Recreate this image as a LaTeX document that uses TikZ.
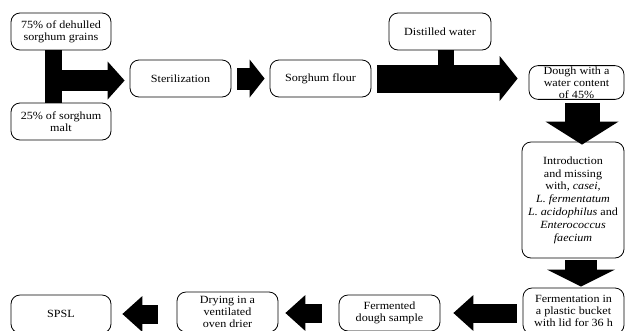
\documentclass[tikz,border=0pt]{standalone}
\usepackage{fontspec}
\setmainfont{Liberation Serif}[FakeStretch=1.1]
\usetikzlibrary{arrows.meta}
\begin{document}
\begin{tikzpicture}[x=1pt,y=-1pt,
  box/.style={rectangle, draw, rounded corners=9pt, line width=0.8pt, align=center, inner sep=1pt,
    font=\fontsize{11}{12}\selectfont},
  tarrow/.style={line width=21pt, -{Triangle[length=17pt,width=38pt,line width'=0pt]}},
  harrow/.style={line width=22pt, -{Triangle[length=15pt,width=38pt,line width'=0pt]}},
  wide/.style={line width=28pt, -{Triangle[length=18pt,width=45pt,line width'=0pt]}},
  downA/.style={line width=35pt, -{Triangle[length=23pt,width=73pt,line width'=0pt]}},
  downB/.style={line width=32pt, -{Triangle[length=17pt,width=68pt,line width'=0pt]}},
  larrow/.style={line width=19pt, -{Triangle[length=20pt,width=36pt,line width'=0pt]}}
]
\useasboundingbox (0,0) rectangle (626,330);
\clip (0,0) rectangle (626,330);

\node[box, minimum width=100pt, minimum height=37pt] (g75) at (61,31.5) {75\% of dehulled\\sorghum grains};
\node[box, minimum width=100pt, minimum height=37pt] (m25) at (61,121.5) {25\% of sorghum\\malt};
\node[box, minimum width=101pt, minimum height=37pt] (ster) at (180.5,78.5) {Sterilization};
\node[box, minimum width=101pt, minimum height=37pt] (flour) at (320.5,78.5) {Sorghum flour};
\node[box, minimum width=102pt, minimum height=37pt] (water) at (440,31.5) {Distilled water};
\node[box, minimum width=95pt, minimum height=33pt] (dough) at (576.5,82.5) {Dough with a\\water content\\of 45\%};
\node[box, minimum width=102pt, minimum height=116pt, font=\fontsize{11}{12.8}\selectfont] (intro) at (573,200) {Introduction\\and missing\\with, \textit{casei,}\\\textit{L. fermentatum}\\\textit{L. acidophilus} and\\\textit{Enterococcus}\\\textit{faecium}};
\node[box, minimum width=101pt, minimum height=46pt] (ferm) at (573.5,311) {Fermentation in\\a plastic bucket\\with lid for 36 h};
\node[box, minimum width=101pt, minimum height=36pt] (fermented) at (389.5,313) {Fermented\\dough sample};
\node[box, minimum width=101pt, minimum height=40pt] (drying) at (227.5,312) {Drying in a\\ventilated\\oven drier};
\node[box, minimum width=100pt, minimum height=38pt] (spsl) at (61,314) {SPSL};

% T junction from the two inputs
\coordinate (tj) at (53.5,80.5);
\draw[line width=17pt] ([xshift=-7.5pt]g75.south) -- ([xshift=-7.5pt]m25.north);
\draw[tarrow, shorten >=5pt] (tj) -- (tj -| ster.west);

\draw[harrow, shorten <=6pt, shorten >=5pt] (ster.east) -- (ster.east -| flour.west);

% water stem and wide arrow
\coordinate (wj) at (446,70);
\draw[line width=16pt] ([xshift=6pt]water.south) -- (wj);
\draw[wide, shorten <=6pt, shorten >=11pt] (flour.east) -- (flour.east -| dough.west);

% downward arrows
\draw[downA, shorten <=3pt, shorten >=-3pt] ([xshift=5.5pt]dough.south) -- ([xshift=5.5pt]dough.south |- intro.north);
\draw[downB, shorten <=2pt, shorten >=1pt] ([xshift=8pt]intro.south) -- ([xshift=8pt]intro.south |- ferm.north);

% leftward arrows
\draw[larrow, shorten <=6pt, shorten >=13pt] (ferm.west |- fermented.east) -- (fermented.east);
\draw[larrow, shorten <=17pt, shorten >=7pt] (fermented.west) -- (fermented.west -| drying.east);
\draw[larrow, shorten <=19pt, shorten >=11pt] (drying.west |- spsl.east) -- (spsl.east);
\end{tikzpicture}
\end{document}
